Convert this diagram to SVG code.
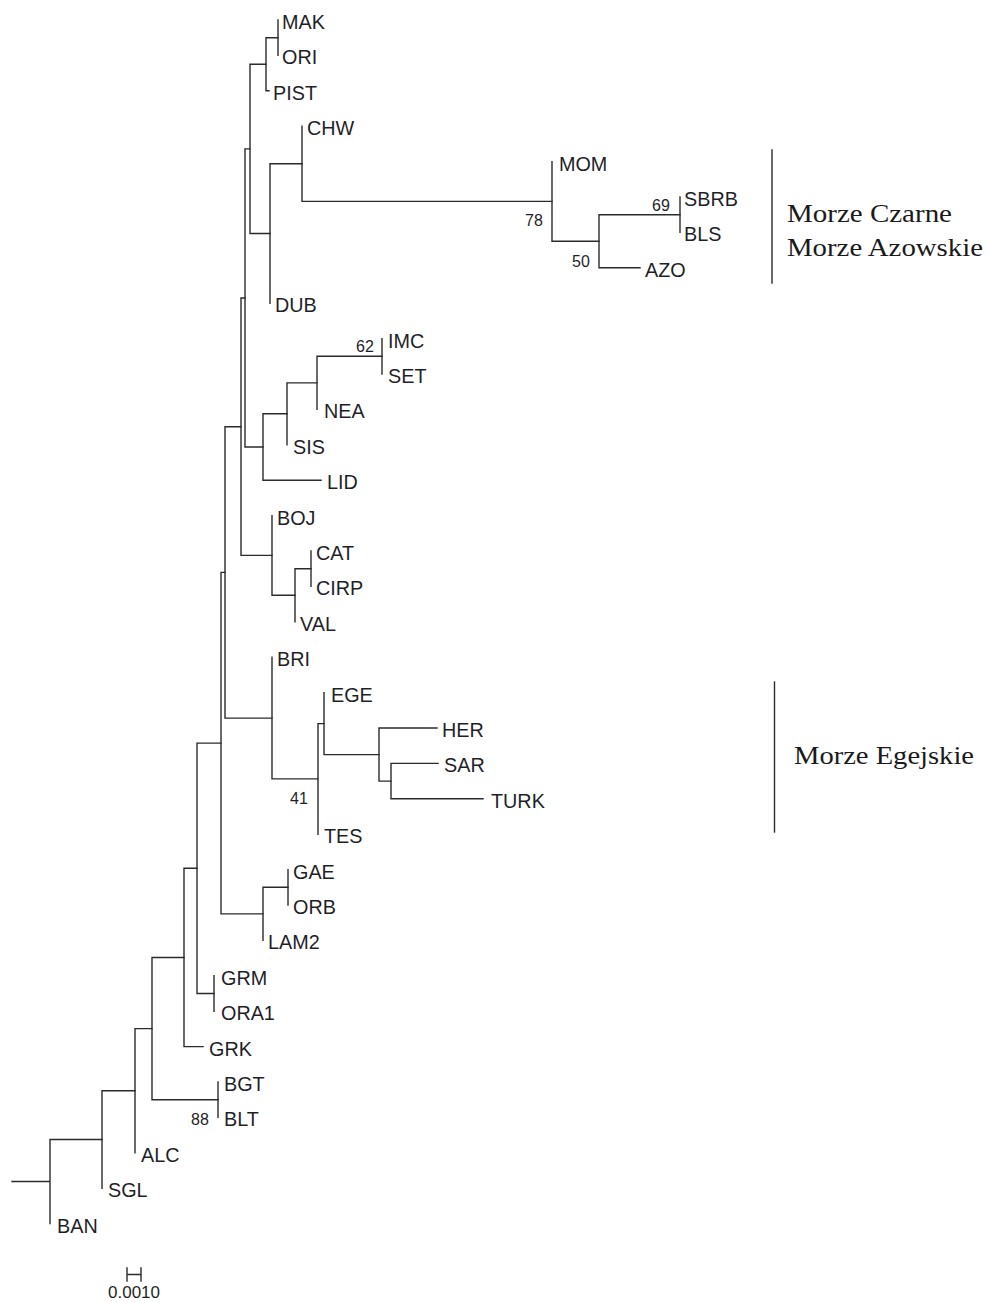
<svg xmlns="http://www.w3.org/2000/svg" width="989" height="1302" viewBox="0 0 989 1302">
<style>
.br{fill:none;stroke:#2b2b2b;stroke-width:1.4;stroke-linecap:square}
.lf{font-family:"Liberation Sans",Arial,sans-serif;font-size:19.8px;fill:#1f1f28}
.bs{font-family:"Liberation Sans",Arial,sans-serif;font-size:16px;fill:#1f1f28}
.sc{font-family:"Liberation Sans",Arial,sans-serif;font-size:17px;fill:#1f1f28}
.rg{font-family:"Liberation Serif","Times New Roman",serif;font-size:25px;fill:#1a1a1a}
</style>
<rect width="989" height="1302" fill="#fff"/>
<g id="connectors" class="br">
<path d="M12,1181.5H50M50,1139.5V1223.6M50,1139.5H102"/>
<path d="M102,1090.7V1188.2M102,1090.7H135"/>
<path d="M135,1028.6V1152.8M135,1028.6H152"/>
<path d="M152,957.5V1099.7M152,957.5H184M152,1099.7H218"/>
<path d="M218,1082V1117.4"/>
<path d="M184,868.3V1046.6M184,1046.6H203M184,868.3H197"/>
<path d="M197,743.1V993.5M197,993.5H214M197,743.1H221"/>
<path d="M214,975.8V1011.2"/>
<path d="M221,572.4V913.9M221,913.9H263M221,572.4H225"/>
<path d="M263,887.3V940.4M263,887.3H288"/>
<path d="M288,869.6V905"/>
<path d="M225,426.7V718.1M225,718.1H272M225,426.7H241"/>
<path d="M272,657.2V778.9M272,778.9H318"/>
<path d="M318,723.6V834.2M318,723.6H324"/>
<path d="M324,692.6V754.6M324,754.6H379"/>
<path d="M379,728V781.1M379,728H437M379,781.1H391"/>
<path d="M391,763.4V798.8M391,763.4H438M391,798.8H483"/>
<path d="M241,298V555.4M241,555.4H272M241,298H245"/>
<path d="M272,515.6V595.3M272,595.3H295"/>
<path d="M295,568.7V621.8M295,568.7H311"/>
<path d="M311,551V586.4"/>
<path d="M245,148.9V447M245,447H263M245,148.9H250"/>
<path d="M263,413.8V480.2M263,480.2H321M263,413.8H287"/>
<path d="M287,382.9V444.8M287,382.9H317"/>
<path d="M317,356.3V409.4M317,356.3H382"/>
<path d="M382,338.6V374"/>
<path d="M250,64.3V233.5M250,233.5H270M250,64.3H266"/>
<path d="M270,163.8V303.2M270,163.8H302"/>
<path d="M302,126.2V201.4M302,201.4H552"/>
<path d="M552,161.6V241.3M552,241.3H599"/>
<path d="M599,214.7V267.8M599,214.7H680M599,267.8H640"/>
<path d="M680,197V232.4"/>
<path d="M266,37.7V90.8M266,37.7H278M266,90.8H269"/>
<path d="M278,20V55.4"/>
</g>
<g id="leaves">
<text id="MAK" class="lf" x="282" y="29">MAK</text>
<text id="ORI" class="lf" x="282" y="64.4">ORI</text>
<text id="PIST" class="lf" x="273" y="99.8">PIST</text>
<text id="CHW" class="lf" x="307" y="135.2">CHW</text>
<text id="MOM" class="lf" x="559" y="170.6">MOM</text>
<text id="SBRB" class="lf" x="684" y="206">SBRB</text>
<text id="BLS" class="lf" x="684" y="241.4">BLS</text>
<text id="AZO" class="lf" x="645" y="276.8">AZO</text>
<text id="DUB" class="lf" x="275" y="312.2">DUB</text>
<text id="IMC" class="lf" x="388" y="347.6">IMC</text>
<text id="SET" class="lf" x="388" y="383">SET</text>
<text id="NEA" class="lf" x="324" y="418.4">NEA</text>
<text id="SIS" class="lf" x="293" y="453.8">SIS</text>
<text id="LID" class="lf" x="327" y="489.2">LID</text>
<text id="BOJ" class="lf" x="277" y="524.6">BOJ</text>
<text id="CAT" class="lf" x="316" y="560">CAT</text>
<text id="CIRP" class="lf" x="316" y="595.4">CIRP</text>
<text id="VAL" class="lf" x="300" y="630.8">VAL</text>
<text id="BRI" class="lf" x="277" y="666.2">BRI</text>
<text id="EGE" class="lf" x="331" y="701.6">EGE</text>
<text id="HER" class="lf" x="442" y="737">HER</text>
<text id="SAR" class="lf" x="444" y="772.4">SAR</text>
<text id="TURK" class="lf" x="491" y="807.8">TURK</text>
<text id="TES" class="lf" x="324" y="843.2">TES</text>
<text id="GAE" class="lf" x="293" y="878.6">GAE</text>
<text id="ORB" class="lf" x="293" y="914">ORB</text>
<text id="LAM2" class="lf" x="268" y="949.4">LAM2</text>
<text id="GRM" class="lf" x="221" y="984.8">GRM</text>
<text id="ORA1" class="lf" x="221" y="1020.2">ORA1</text>
<text id="GRK" class="lf" x="209" y="1055.6">GRK</text>
<text id="BGT" class="lf" x="224" y="1091">BGT</text>
<text id="BLT" class="lf" x="224" y="1126.4">BLT</text>
<text id="ALC" class="lf" x="141" y="1161.8">ALC</text>
<text id="SGL" class="lf" x="108" y="1197.2">SGL</text>
<text id="BAN" class="lf" x="57" y="1232.6">BAN</text>
</g>
<g id="bootstrap">
<text class="bs" x="525" y="226">78</text>
<text class="bs" x="572" y="266.5">50</text>
<text class="bs" x="652" y="210.5">69</text>
<text class="bs" x="356" y="352">62</text>
<text class="bs" x="290" y="804">41</text>
<text class="bs" x="191" y="1125">88</text>
</g>
<g id="region-black-azov">
<path class="br" d="M772,150V283"/>
<text class="rg" x="787" y="221.5" textLength="165" lengthAdjust="spacingAndGlyphs">Morze Czarne</text>
<text class="rg" x="787" y="256" textLength="196" lengthAdjust="spacingAndGlyphs">Morze Azowskie</text>
</g>
<g id="region-aegean">
<path class="br" d="M774.5,682V832"/>
<text class="rg" x="794" y="764" textLength="180" lengthAdjust="spacingAndGlyphs">Morze Egejskie</text>
</g>
<g id="scale">
<path class="br" d="M127,1268V1281M141,1268V1281M127,1274.5H141"/>
<text class="sc" x="134" y="1298" text-anchor="middle">0.0010</text>
</g>
</svg>
